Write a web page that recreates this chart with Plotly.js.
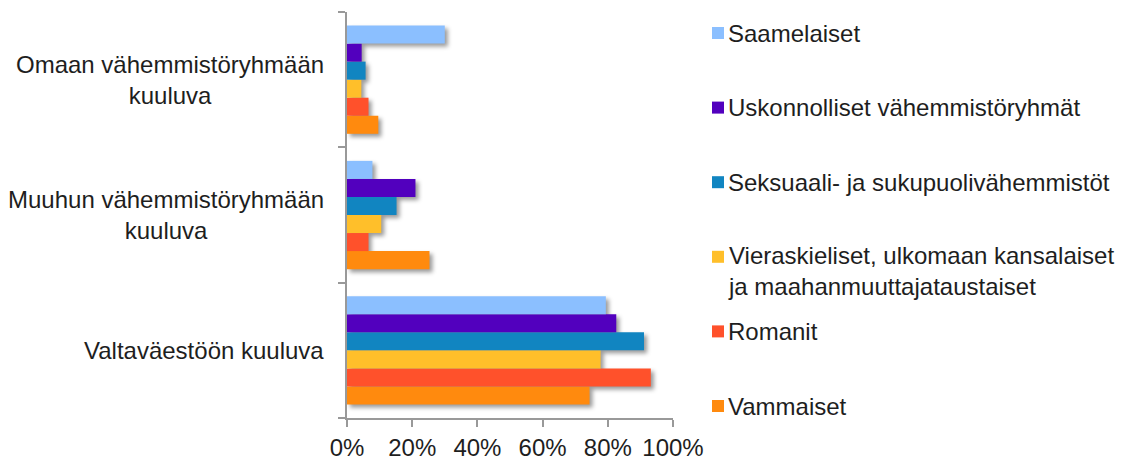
<!DOCTYPE html>
<html><head><meta charset="utf-8">
<script src="https://cdn.plot.ly/plotly-3.0.1.min.js"></script>
<style>
html,body{margin:0;padding:0;background:#fff;}
#chart{width:1122px;height:458px;}
.barlayer{filter:drop-shadow(3px 3px 2px rgba(0,0,0,0.4));}
</style></head><body><div id="chart"></div>
<script>
// Categories (bottom to top)
const categories = ["Valtaväestöön kuuluva", "Muuhun vähemmistöryhmään kuuluva", "Omaan vähemmistöryhmään kuuluva"];
const categoryLabels = ["Valtaväestöön kuuluva", "Muuhun vähemmistöryhmään<br>kuuluva", "Omaan vähemmistöryhmään<br>kuuluva"];

// Series (trace order: bottom bar of each group first)
const seriesNames = ["Vammaiset", "Romanit", "Vieraskieliset, ulkomaan kansalaiset ja maahanmuuttajataustaiset", "Seksuaali- ja sukupuolivähemmistöt", "Uskonnolliset vähemmistöryhmät", "Saamelaiset"];
const legendLabels = ["Vammaiset", "Romanit", "Vieraskieliset, ulkomaan kansalaiset<br>ja maahanmuuttajataustaiset", "Seksuaali- ja sukupuolivähemmistöt", "Uskonnolliset vähemmistöryhmät", "Saamelaiset"];

// Values in % per category [Valtaväestöön, Muuhun, Omaan]
const vammaiset      = [74.4, 25.3, 9.6];
const romanit        = [93.2, 6.6, 6.6];
const vieraskieliset = [77.8, 10.5, 4.4];
const seksuaali      = [91.1, 15.2, 5.7];
const uskonnolliset  = [82.6, 21.0, 4.5];
const saamelaiset    = [79.4, 7.8, 30.0];

const seriesValues = [vammaiset, romanit, vieraskieliset, seksuaali, uskonnolliset, saamelaiset];
const seriesColors = ["#FF8A0E", "#FF512B", "#FFBF2A", "#1185C1", "#5200BE", "#8BBFFF"];

const xTickVals = [0, 20, 40, 60, 80, 100];
const xTickText = ["0%", "20%", "40%", "60%", "80%", "100%"];

const FONT = "Liberation Sans, Arial, sans-serif";
const TEXT = "#1e1e1e";
const FS = 24;

const traces = seriesNames.map((name, i) => ({
  type: "bar",
  orientation: "h",
  name: name,
  y: categories,
  x: seriesValues[i],
  marker: {color: seriesColors[i], line: {width: 0}},
  hoverinfo: "x+name"
}));

// plot-area geometry helpers (pixel -> paper)
const L = 347, R = 673, T = 12, B = 418;
const px = p => (p - L) / (R - L);
const py = p => (B - p) / (B - T);

const shapes = [];
const annotations = [];

// category labels, centred lines
categories.forEach((c, i) => {
  annotations.push({
    xref: "paper", yref: "y", x: px(326), y: c,
    xanchor: "right", yanchor: "middle", align: "center",
    text: categoryLabels[i], showarrow: false,
    font: {family: FONT, size: FS, color: TEXT}
  });
});

// custom legend (top to bottom: reversed trace order)
const legendTop = 33, legendStep = 74.6;
for (let k = 0; k < seriesNames.length; k++) {
  const i = seriesNames.length - 1 - k;
  const cy = legendTop + k * legendStep;
  shapes.push({
    type: "rect", xref: "paper", yref: "paper",
    x0: px(712), x1: px(724), y0: py(cy + 6), y1: py(cy - 6),
    fillcolor: seriesColors[i], line: {width: 0}
  });
  const lines = legendLabels[i].split("<br>").length;
  annotations.push({
    xref: "paper", yref: "paper", x: px(726), y: py(cy + (lines - 1) * 14),
    xanchor: "left", yanchor: "middle", align: "left",
    text: legendLabels[i], showarrow: false,
    font: {family: FONT, size: FS, color: TEXT}
  });
}

const layout = {
  width: 1122, height: 458,
  margin: {l: L, r: 1122 - R, t: T, b: 458 - B, pad: 0},
  paper_bgcolor: "#fff", plot_bgcolor: "#fff",
  barmode: "group", bargap: 0.2, bargroupgap: 0,
  showlegend: false,
  font: {family: FONT, size: FS, color: TEXT},
  xaxis: {
    range: [0, 100], tickvals: xTickVals, ticktext: xTickText,
    showgrid: false, zeroline: false,
    showline: true, linecolor: "#999", linewidth: 2,
    ticks: "outside", ticklen: 7, tickwidth: 2, tickcolor: "#999",
    tickfont: {family: FONT, size: FS, color: TEXT},
    fixedrange: true
  },
  yaxis: {
    type: "category", categoryorder: "array", categoryarray: categories,
    range: [-0.5, 2.5], showticklabels: false,
    showgrid: false, zeroline: false,
    showline: true, linecolor: "#999", linewidth: 2,
    ticks: "outside", tickson: "boundaries", ticklen: 7, tickwidth: 2, tickcolor: "#999",
    fixedrange: true
  },
  shapes: shapes,
  annotations: annotations
};

Plotly.newPlot("chart", traces, layout, {displayModeBar: false, staticPlot: true});
</script>
</body></html>
